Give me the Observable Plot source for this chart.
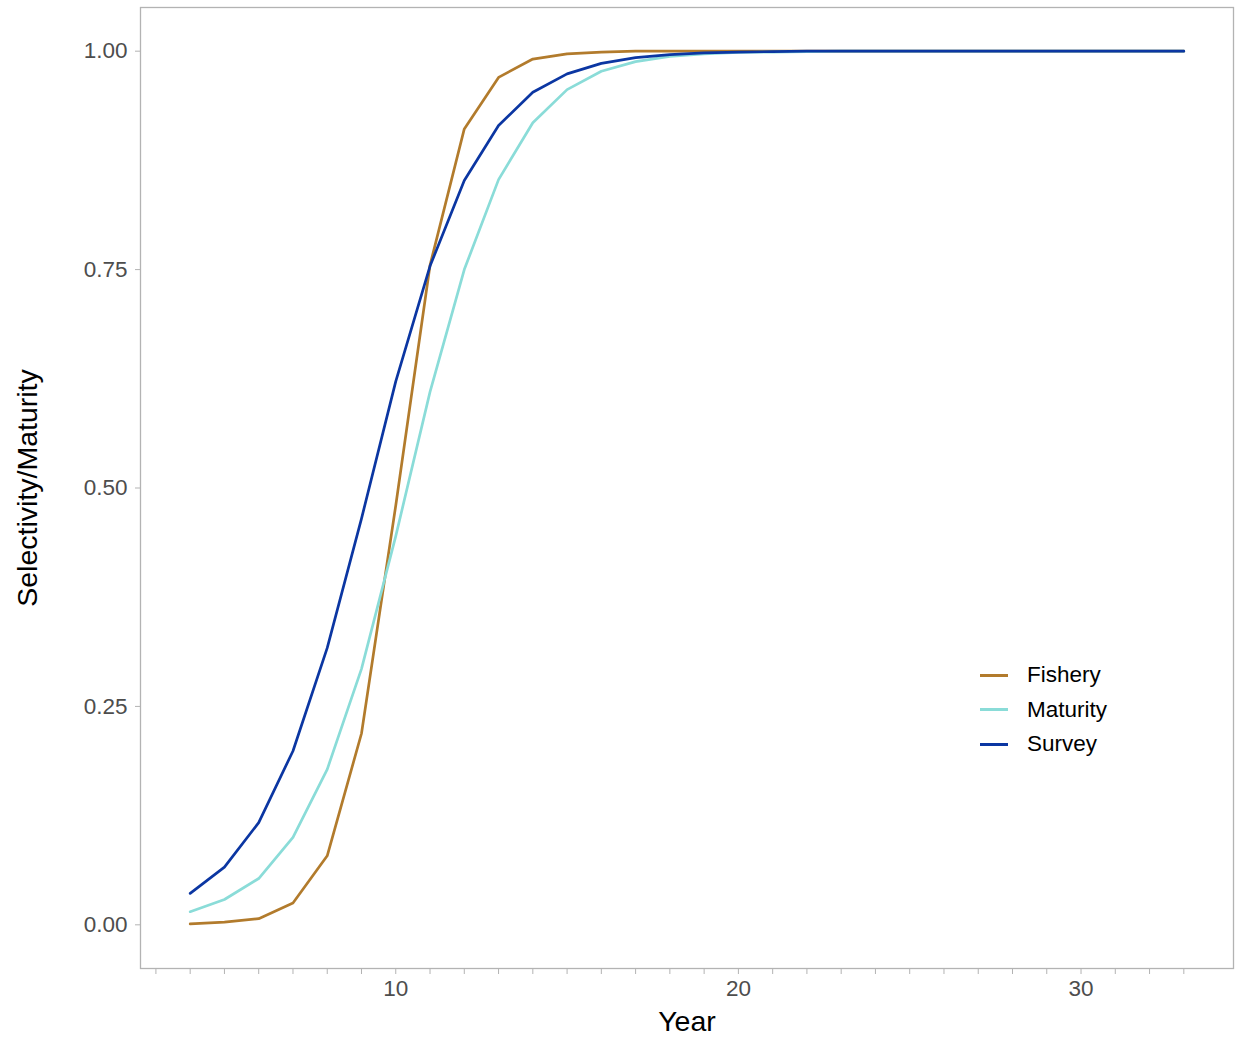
<!DOCTYPE html>
<html>
<head>
<meta charset="utf-8">
<script src="https://cdn.jsdelivr.net/npm/d3@7"></script>
<script src="https://cdn.jsdelivr.net/npm/@observablehq/plot@0.6"></script>
<style>
  html, body { margin: 0; padding: 0; background: #fff; }
  #wrap { position: relative; width: 1238px; height: 1038px; font-family: "Liberation Sans", Arial, sans-serif; }
  #wrap svg { font-family: "Liberation Sans", Arial, sans-serif; }
  g[aria-label="x-axis tick"] path, g[aria-label="y-axis tick"] path { stroke: #b3b3b3; }
  g[aria-label="x-axis tick label"] text, g[aria-label="y-axis tick label"] text { fill: #4d4d4d; font-size: 22.5px; }
  g[aria-label="x-axis label"] text, g[aria-label="y-axis label"] text { fill: #000; font-size: 28.5px; }
  #legend { position: absolute; left: 980px; top: 658px; font-size: 22.5px; color: #000; }
  #legend .row { display: flex; align-items: center; height: 34.5px; }
  #legend .key { width: 28px; height: 2.7px; margin-right: 19px; }
</style>
</head>
<body>
<div id="wrap"></div>
<script>
// Data
const years = d3.range(4, 34);
const fishery  = [0.001, 0.003, 0.007, 0.025, 0.079, 0.219, 0.48, 0.755, 0.911, 0.970, 0.991, 0.997, 0.999, 1.0, 1.0, 1.0, 1.0, 1.0, 1.0, 1.0, 1.0, 1.0, 1.0, 1.0, 1.0, 1.0, 1.0, 1.0, 1.0, 1.0];
const maturity = [0.015, 0.029, 0.053, 0.100, 0.178, 0.293, 0.445, 0.610, 0.750, 0.853, 0.918, 0.956, 0.977, 0.988, 0.994, 0.997, 0.9985, 0.999, 0.9995, 1.0, 1.0, 1.0, 1.0, 1.0, 1.0, 1.0, 1.0, 1.0, 1.0, 1.0];
const survey   = [0.036, 0.066, 0.117, 0.199, 0.317, 0.465, 0.622, 0.754, 0.852, 0.915, 0.953, 0.974, 0.986, 0.9926, 0.996, 0.998, 0.999, 0.9995, 1.0, 1.0, 1.0, 1.0, 1.0, 1.0, 1.0, 1.0, 1.0, 1.0, 1.0, 1.0];
const seriesNames = ["Fishery", "Maturity", "Survey"];
const seriesColors = ["#b27b2c", "#8adcd8", "#0b36a2"];
const xTicks = d3.range(3, 34);
const xLabeled = [10, 20, 30];
const yTicks = [0, 0.25, 0.5, 0.75, 1];

const values = [fishery, maturity, survey];
const rows = [];
seriesNames.forEach((name, i) => {
  years.forEach((yr, j) => rows.push({series: name, year: yr, value: values[i][j]}));
});

const chart = Plot.plot({
  width: 1238,
  height: 1038,
  marginLeft: 140,
  marginRight: 5,
  marginTop: 7,
  marginBottom: 70,
  x: {domain: [2.55, 34.45]},
  y: {domain: [-0.05, 1.05]},
  color: {domain: seriesNames, range: seriesColors},
  marks: [
    Plot.frame({stroke: "#b3b3b3", strokeWidth: 1.3}),
    Plot.axisX({
      ticks: xTicks,
      tickSize: 6,
      tickPadding: 6,
      tickFormat: d => xLabeled.includes(d) ? String(d) : "",
      label: "Year",
      labelAnchor: "center",
      labelArrow: "none",
      labelOffset: 62
    }),
    Plot.axisY({
      ticks: yTicks,
      tickSize: 5,
      tickPadding: 8,
      tickFormat: d3.format(".2f"),
      label: "Selectivity/Maturity",
      labelAnchor: "center",
      labelArrow: "none",
      labelOffset: 124
    }),
    Plot.line(rows, {x: "year", y: "value", z: "series", stroke: "series", strokeWidth: 2.7})
  ]
});

const wrap = document.getElementById("wrap");
wrap.appendChild(chart);

// Legend
const legend = document.createElement("div");
legend.id = "legend";
seriesNames.forEach((name, i) => {
  const row = document.createElement("div");
  row.className = "row";
  const key = document.createElement("div");
  key.className = "key";
  key.style.background = seriesColors[i];
  const label = document.createElement("span");
  label.textContent = name;
  row.appendChild(key);
  row.appendChild(label);
  legend.appendChild(row);
});
wrap.appendChild(legend);
</script>
</body>
</html>
